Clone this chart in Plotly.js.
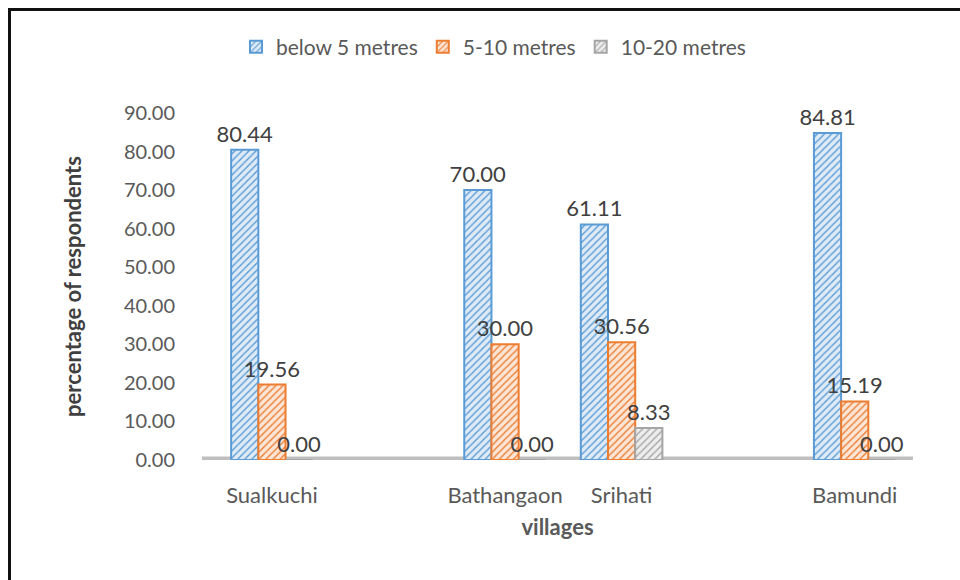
<!DOCTYPE html>
<html>
<head>
<meta charset="utf-8">
<script src="https://cdn.plot.ly/plotly-3.0.1.min.js"></script>
<style>
  html, body { margin: 0; padding: 0; background: #fff; }
  #wrap { position: relative; width: 960px; height: 580px; }
  #chart { position: absolute; left: 0; top: 0; width: 960px; height: 580px; }
  #frame { position: absolute; left: 8px; top: 8px; width: 960px; height: 580px;
           border-left: 3px solid #111; border-top: 3px solid #111; pointer-events: none; }
</style>
</head>
<body>
<div id="wrap">
  <div id="chart"></div>
  <div id="frame"></div>
</div>
<script>
// Villages in axis order; null marks an empty slot on the category axis
const slots = ["Sualkuchi", null, "Bathangaon", "Srihati", null, "Bamundi"];
const villages = ["Sualkuchi", "Bathangaon", "Srihati", "Bamundi"];

// Share of respondents (%) by distance band
const below5 = [80.44, 70.00, 61.11, 84.81];
const from5to10 = [19.56, 30.00, 30.56, 15.19];
const from10to20 = [0.00, 0.00, 8.33, 0.00];

const seriesNames = ["below 5 metres", "5-10 metres", "10-20 metres"];
const yTicks = [0, 10, 20, 30, 40, 50, 60, 70, 80, 90];

const xPos = villages.map(v => slots.indexOf(v));
const FONT = "Lato, 'Open Sans', sans-serif";

function series(name, values, line, bg) {
  return {
    type: "bar",
    name: name,
    x: xPos,
    y: values,
    text: values.map(v => v.toFixed(2)),
    textposition: "outside",
    constraintext: "none",
    cliponaxis: false,
    textfont: { family: FONT, size: 22, color: "#404040" },
    marker: {
      color: bg,
      line: { color: line, width: 2 },
      pattern: { shape: "/", fgcolor: line, bgcolor: bg, size: 5, solidity: 0.28 }
    },
    hoverinfo: "skip"
  };
}

const data = [
  series(seriesNames[0], below5, "#5B9BD5", "#DEEBF7"),
  series(seriesNames[1], from5to10, "#ED7D31", "#FBE5D6"),
  series(seriesNames[2], from10to20, "#A5A5A5", "#EDEDED")
];

const layout = {
  width: 960,
  height: 580,
  paper_bgcolor: "#ffffff",
  plot_bgcolor: "#ffffff",
  margin: { l: 202, r: 47, t: 113, b: 120 },
  font: { family: FONT, color: "#595959", size: 20 },
  barmode: "group",
  bargap: 0.3,
  bargroupgap: 0,
  showlegend: true,
  legend: {
    orientation: "h",
    x: 0.41, xanchor: "center",
    y: 1.19, yanchor: "middle",
    font: { family: FONT, size: 21, color: "#595959" },
    itemwidth: 30
  },
  xaxis: {
    range: [-0.6, 5.5],
    tickmode: "array",
    tickvals: xPos,
    ticktext: villages,
    showgrid: false,
    zeroline: false,
    showline: false,
    ticks: "",
    ticklabelstandoff: 20,
    tickfont: { family: FONT, size: 22, color: "#595959" },
    title: { text: "<b>villages</b>", font: { family: FONT, size: 22, color: "#595959" }, standoff: 12 }
  },
  yaxis: {
    range: [0, 90],
    tickmode: "array",
    tickvals: yTicks,
    ticktext: yTicks.map(v => v.toFixed(2)),
    showgrid: false,
    zeroline: false,
    showline: false,
    ticks: "",
    ticklabelstandoff: 26,
    tickfont: { family: FONT, size: 20, color: "#595959" },
    title: { text: "<b>percentage of respondents</b>", font: { family: FONT, size: 22, color: "#404040" }, standoff: 36 }
  },
  shapes: [
    {
      type: "rect", xref: "paper", yref: "y",
      x0: 0, x1: 1, y0: -0.9, y1: 0.9,
      fillcolor: "#BFBFBF", line: { width: 0 }, layer: "below"
    }
  ]
};

Plotly.newPlot("chart", data, layout, { displayModeBar: false, staticPlot: true });
</script>
</body>
</html>
